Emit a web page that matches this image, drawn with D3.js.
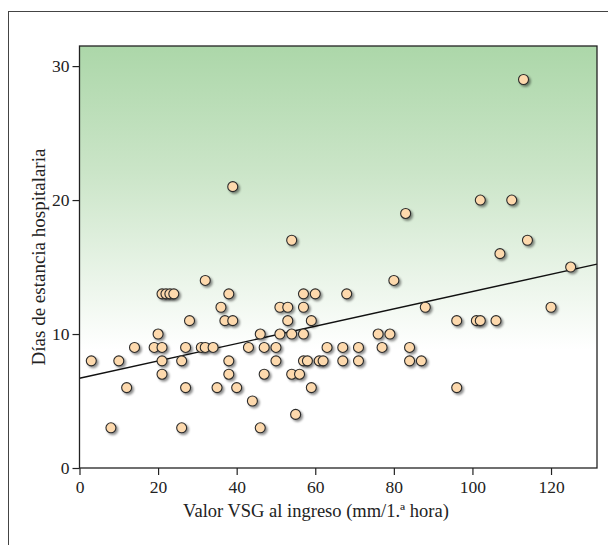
<!DOCTYPE html>
<html>
<head>
<meta charset="utf-8">
<script src="https://cdn.jsdelivr.net/npm/d3@7"></script>
<style>
  body { margin: 0; background: #fff; }
  svg { display: block; font-family: "Liberation Serif", "DejaVu Serif", serif; }
</style>
</head>
<body>
<div class="chart"></div>
<script>
const width = 608;
const height = 545;

// VSG al ingreso (x) y dias de estancia (y)
const vsg  = [3, 8, 10, 12, 14, 19, 20, 21, 21, 21, 21, 22, 23, 24, 26, 26, 27, 27, 28, 31,
              32, 34, 32, 35, 36, 37, 38, 38, 38, 39, 39, 40, 43, 44, 46, 46, 47, 47, 50, 50,
              51, 51, 53, 53, 54, 54, 54, 55, 56, 57, 57, 57, 57, 58, 59, 59, 60, 61, 62, 63,
              67, 67, 68, 71, 71, 76, 77, 79, 80, 83, 84, 84, 87, 88, 96, 96, 101, 102, 102, 106,
              107, 110, 113, 114, 120, 125];
const dias = [8, 3, 8, 6, 9, 9, 10, 9, 8, 7, 13, 13, 13, 13, 8, 3, 9, 6, 11, 9,
              9, 9, 14, 6, 12, 11, 13, 8, 7, 11, 21, 6, 9, 5, 3, 10, 9, 7, 9, 8,
              10, 12, 12, 11, 10, 17, 7, 4, 7, 10, 12, 13, 8, 8, 11, 6, 13, 8, 8, 9,
              9, 8, 13, 9, 8, 10, 9, 10, 14, 19, 9, 8, 8, 12, 11, 6, 11, 11, 20, 11,
              16, 20, 29, 17, 12, 15];

const xTicks = [0, 20, 40, 60, 80, 100, 120];
const yTicks = [0, 10, 20, 30];

// recta de regresion
const intercept = 6.7;
const slope = 0.0647;

const xMax = 131.7;
const yMax = 31.5;

const svg = d3.select(".chart")
    .append("svg")
    .attr("width", width)
    .attr("height", height)
    .attr("viewBox", [0, 0, width, height]);

const x = d3.scaleLinear().domain([0, xMax]).range([79.5, 597]);
const y = d3.scaleLinear().domain([0, yMax]).range([468, 46]);

const defs = svg.append("defs");
const grad = defs.append("linearGradient")
    .attr("id", "bg")
    .attr("x1", 0).attr("y1", 0).attr("x2", 0).attr("y2", 1);
grad.append("stop").attr("offset", "0%").attr("stop-color", "#acd7a9");
grad.append("stop").attr("offset", "30%").attr("stop-color", "#cbe5c8");
grad.append("stop").attr("offset", "72%").attr("stop-color", "#ffffff");
grad.append("stop").attr("offset", "100%").attr("stop-color", "#ffffff");

const shadow = defs.append("filter")
    .attr("id", "shadow")
    .attr("x", "-50%").attr("y", "-50%")
    .attr("width", "200%").attr("height", "200%");
shadow.append("feDropShadow")
    .attr("dx", 1.8).attr("dy", 1.8)
    .attr("stdDeviation", 1.3)
    .attr("flood-color", "#000")
    .attr("flood-opacity", 0.45);

// outer frame
svg.append("rect")
    .attr("x", 8.5).attr("y", 11.5)
    .attr("width", 620).attr("height", 560)
    .attr("fill", "none")
    .attr("stroke", "#444")
    .attr("stroke-width", 1);

// plot background
svg.append("rect")
    .attr("x", x(0)).attr("y", y(yMax))
    .attr("width", x(xMax) - x(0))
    .attr("height", y(0) - y(yMax))
    .attr("fill", "url(#bg)");

// regression line
svg.append("line")
    .attr("x1", x(0)).attr("y1", y(intercept))
    .attr("x2", x(xMax)).attr("y2", y(intercept + slope * xMax))
    .attr("stroke", "#111")
    .attr("stroke-width", 1.3);

// points
svg.append("g")
    .selectAll("circle")
    .data(vsg.map((v, i) => ({v: v, d: dias[i]})))
    .join("circle")
    .attr("cx", p => x(p.v))
    .attr("cy", p => y(p.d))
    .attr("r", 5)
    .attr("fill", "#fdd9ad")
    .attr("stroke", "#2a2a2a")
    .attr("stroke-width", 1.1)
    .attr("filter", "url(#shadow)");

// plot border
svg.append("rect")
    .attr("x", x(0)).attr("y", y(yMax))
    .attr("width", x(xMax) - x(0))
    .attr("height", y(0) - y(yMax))
    .attr("fill", "none")
    .attr("stroke", "#222")
    .attr("stroke-width", 1.3);

const xAxis = svg.append("g")
    .attr("transform", `translate(0,${y(0)})`)
    .call(d3.axisBottom(x).tickValues(xTicks).tickSize(7).tickPadding(6));
const yAxis = svg.append("g")
    .attr("transform", `translate(${x(0)},0)`)
    .call(d3.axisLeft(y).tickValues(yTicks).tickSize(7).tickPadding(3));

[xAxis, yAxis].forEach(a => {
    a.select(".domain").remove();
    a.selectAll("line").attr("stroke", "#222").attr("stroke-width", 1.2);
    a.selectAll("text")
        .attr("fill", "#222")
        .style("font-family", "Liberation Serif, serif")
        .style("font-size", "17.5px");
});

svg.append("text")
    .attr("x", 316)
    .attr("y", 517)
    .attr("text-anchor", "middle")
    .attr("fill", "#222")
    .style("font-size", "18.5px")
    .text("Valor VSG al ingreso (mm/1.ª hora)");

svg.append("text")
    .attr("transform", `translate(45,257) rotate(-90)`)
    .attr("text-anchor", "middle")
    .attr("fill", "#222")
    .style("font-size", "19px")
    .text("Días de estancia hospitalaria");
</script>
</body>
</html>
